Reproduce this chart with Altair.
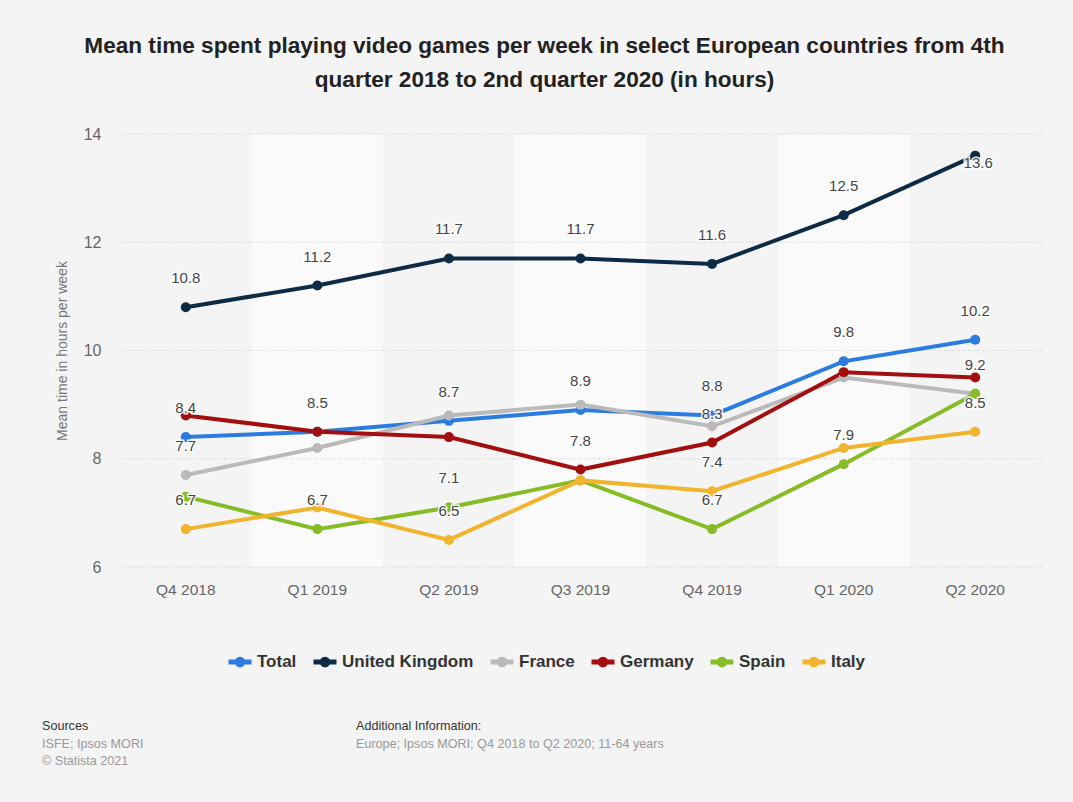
import altair as alt
import pandas as pd

F = "Liberation Sans"

quarters = ["Q4 2018", "Q1 2019", "Q2 2019", "Q3 2019", "Q4 2019", "Q1 2020", "Q2 2020"]
series_names = ["Total", "United Kingdom", "France", "Germany", "Spain", "Italy"]
series_colors = ["#2b7be0", "#0e2b46", "#bababa", "#a30e0e", "#86bc25", "#f1b42f"]

total = [8.4, 8.5, 8.7, 8.9, 8.8, 9.8, 10.2]
united_kingdom = [10.8, 11.2, 11.7, 11.7, 11.6, 12.5, 13.6]
france = [7.7, 8.2, 8.8, 9.0, 8.6, 9.5, 9.2]
germany = [8.8, 8.5, 8.4, 7.8, 8.3, 9.6, 9.5]
spain = [7.3, 6.7, 7.1, 7.6, 6.7, 7.9, 9.2]
italy = [6.7, 7.1, 6.5, 7.6, 7.4, 8.2, 8.5]

# which values carry a visible data label in the original
labels_total = [1, 1, 1, 1, 1, 1, 1]
labels_uk = [1, 1, 1, 1, 1, 1, 1]
labels_france = [1, 0, 0, 0, 0, 0, 0]
labels_germany = [0, 0, 0, 1, 1, 0, 0]
labels_spain = [0, 1, 1, 0, 1, 1, 1]
labels_italy = [1, 0, 1, 0, 1, 0, 1]
label_below = [("United Kingdom", "Q2 2020")]

y_ticks = [6, 8, 10, 12, 14]

title_lines = [
    "Mean time spent playing video games per week in select European countries from 4th",
    "quarter 2018 to 2nd quarter 2020 (in hours)",
]

all_values = [total, united_kingdom, france, germany, spain, italy]
all_labels = [labels_total, labels_uk, labels_france, labels_germany, labels_spain, labels_italy]

rows = []
for s, vals, labs in zip(series_names, all_values, all_labels):
    for q, v, l in zip(quarters, vals, labs):
        rows.append({"series": s, "quarter": q, "value": v, "show": l,
                     "below": int((s, q) in label_below)})
df = pd.DataFrame(rows)

bands = pd.DataFrame({"quarter": quarters, "shade": [i % 2 for i in range(len(quarters))]})
grid = pd.DataFrame({"value": y_ticks})

W, H = 921, 433

xscale = alt.Scale(type="band", domain=quarters, paddingInner=0, paddingOuter=0)
xaxis = alt.Axis(title=None, domain=False, ticks=False, grid=False, labelPadding=15,
                 labelFontSize=15.5, labelColor="#666", labelFont=F, labelAngle=0)
yscale = alt.Scale(domain=[6, 14], nice=False, zero=False)
yaxis = alt.Axis(values=y_ticks, title="Mean time in hours per week", grid=False, domain=False,
                 ticks=False, labelPadding=19, labelFontSize=16, labelColor="#666", labelFont=F,
                 titleFont=F, titleFontSize=14, titleColor="#777", titleFontWeight="normal",
                 titleX=-58, titleY=H / 2, titleBaseline="middle", titleAlign="center")

X_rect = alt.X("quarter:N", scale=xscale, axis=xaxis, sort=quarters)
X_pt = alt.X("quarter:N", scale=xscale, axis=xaxis, sort=quarters, bandPosition=0.5)
Y = alt.Y("value:Q", scale=yscale, axis=yaxis)

band_layer = alt.Chart(bands).transform_filter("datum.shade == 1").mark_rect(
    fill="#fafafa").encode(x=X_rect, y=alt.value(0), y2=alt.value(H))

grid_layer = alt.Chart(grid).mark_rule(color="#c8c8c8", strokeDash=[1, 2], strokeWidth=1).encode(y=Y)

legend_symbol = "M-1,0H1M0.25,0A0.25,0.25,0,1,1,-0.25,0A0.25,0.25,0,1,1,0.25,0"
color = alt.Color("series:N", scale=alt.Scale(domain=series_names, range=series_colors),
                  legend=alt.Legend(orient="none", legendX=106, legendY=514, direction="horizontal",
                                    title=None, symbolType=legend_symbol, symbolSize=529,
                                    symbolStrokeWidth=5, labelFontSize=17, labelFontWeight="bold",
                                    labelColor="#333", labelFont=F, columnPadding=6, labelOffset=3,
                                    padding=0, symbolOpacity=1))

line_layer = alt.Chart(df).mark_line(
    strokeWidth=4, point=alt.OverlayMarkDef(filled=True, size=100, opacity=1)
).encode(x=X_pt, y=Y, color=color, detail="series:N")

lab_above = alt.Chart(df).transform_filter("datum.show == 1 && datum.below == 0")
lab_below = alt.Chart(df).transform_filter("datum.show == 1 && datum.below == 1")
txt = alt.Text("value:Q", format=".1f")

halo_a = lab_above.mark_text(font=F, fontSize=15, dy=-29, baseline="middle", stroke="white",
                             strokeWidth=3, strokeOpacity=0.9, color="white").encode(x=X_pt, y=Y, text=txt)
text_a = lab_above.mark_text(font=F, fontSize=15, dy=-29, baseline="middle",
                             color="#444").encode(x=X_pt, y=Y, text=txt)
halo_b = lab_below.mark_text(font=F, fontSize=15, dy=7, dx=3, baseline="middle", stroke="white",
                             strokeWidth=3, strokeOpacity=0.9, color="white").encode(x=X_pt, y=Y, text=txt)
text_b = lab_below.mark_text(font=F, fontSize=15, dy=7, dx=3, baseline="middle",
                             color="#444").encode(x=X_pt, y=Y, text=txt)

def foot(text, x, y, color):
    return alt.Chart(grid).transform_filter("datum.value == 6").mark_text(
        font=F, fontSize=12.6, align="left", baseline="middle", color=color
    ).encode(x=alt.value(x), y=alt.value(y), text=alt.value(text))

footer = [
    foot("Sources", -78, 592, "#333"),
    foot("ISFE; Ipsos MORI", -78, 610, "#999"),
    foot("© Statista 2021", -78, 627, "#999"),
    foot("Additional Information:", 236, 592, "#333"),
    foot("Europe; Ipsos MORI; Q4 2018 to Q2 2020; 11-64 years", 236, 610, "#999"),
]

chart = alt.layer(
    band_layer, grid_layer, line_layer, halo_a, text_a, halo_b, text_b, *footer
).properties(
    width=W, height=H,
    autosize=alt.AutoSizeParams(type="none"),
    padding={"left": 120, "top": 134, "right": 32, "bottom": 235},
    title=alt.TitleParams(text=title_lines, font=F, fontSize=22.6, fontWeight="bold", color="#222",
                          anchor="middle", frame="group", lineHeight=34, offset=34, dx=-36),
).configure(background="#f4f4f4").configure_view(strokeWidth=0)

chart.save("out.html", embed_options={"renderer": "svg", "actions": False})
